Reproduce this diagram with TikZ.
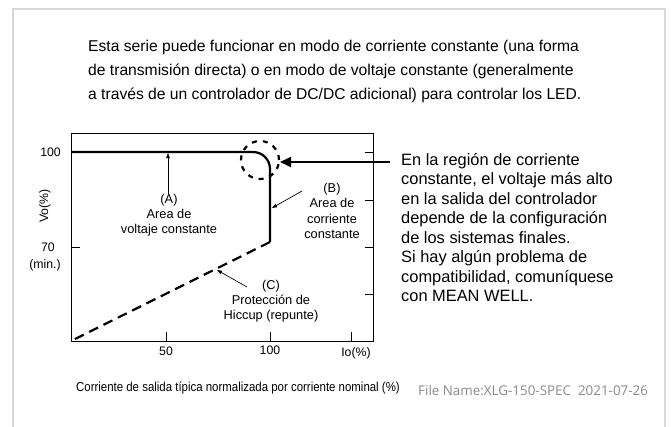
\documentclass[tikz,border=0pt]{standalone}
\usepackage{fontspec}
\setmainfont{Liberation Sans}
\newfontfamily\fnfont{Open Sans}
\usetikzlibrary{arrows.meta}
\definecolor{framegray}{HTML}{D8D8D8}
\definecolor{fngray}{HTML}{8A8A8A}
\begin{document}
\begin{tikzpicture}[x=1pt,y=-1pt,
  intro/.style={inner sep=0pt, align=left, font=\fontsize{15.65}{24}\selectfont},
  note/.style={inner sep=0pt, align=left, font=\fontsize{16.4}{19.5}\selectfont},
  lbl/.style={inner sep=0pt, align=center, font=\fontsize{12.8}{15.2}\selectfont},
  axlbl/.style={inner sep=0pt, align=center, font=\fontsize{12.3}{16}\selectfont},
  thinarrow/.style={line width=0.7pt, -{Triangle[length=5pt,width=3.5pt]}},
  bigarrow/.style={line width=1.8pt, -{Triangle[length=11pt,width=10pt]}},
  curve/.style={line width=2.2pt},
  tickmark/.style={line width=1pt},
]
\useasboundingbox (0,0) rectangle (672,426);
\fill[white] (0,0) rectangle (672,426);
\begin{scope}
\clip (0,0) rectangle (672,426);
\draw[framegray, line width=2.5pt] (13,440) -- (13,9) -- (665,9) -- (665,440);
\end{scope}

% intro text
\node[intro, anchor=west] (introtext) at (88,71) {Esta serie puede funcionar en modo de corriente constante (una forma\\de transmisión directa) o en modo de voltaje constante (generalmente\\a través de un controlador de DC/DC adicional) para controlar los LED.};

% plot box
\node[draw, line width=1pt, minimum width=302pt, minimum height=208pt, inner sep=0pt, anchor=north west] (plot) at (71,133) {};
\coordinate (o) at (71,341);
\coordinate (v100) at (71,152);
\coordinate (corner) at (270,152);
\coordinate (knee) at (270,242);

% ticks
\draw[tickmark] (71,247) -- (80,247);
\draw[tickmark] (373,152) -- (365,152);
\draw[tickmark] (373,200) -- (365,200);
\draw[tickmark] (373,247) -- (365,247);
\draw[tickmark] (373,294) -- (365,294);
\draw[tickmark] (166,341) -- (166,332);
\draw[tickmark] (270,341) -- (270,332);
\draw[tickmark] (351,341) -- (351,332);

% curves
\draw[curve, rounded corners=17pt] (v100) -- (corner) -- (knee);
\draw[curve, dash pattern=on 10pt off 6pt] (knee) -- (o);
\node[circle, draw, line width=2.2pt, dash pattern=on 5pt off 6pt, minimum size=38pt, inner sep=0pt] (ring) at (260,160) {};

% big arrow
\coordinate (bigstart) at (390,162);
\coordinate (bigend) at (280,162);
\draw[bigarrow] (bigstart) -- (bigend);

% axis labels
\node[axlbl, anchor=east] (y100) at (61,152) {100};
\node[axlbl] (y70) at (48,247) {70};
\node[axlbl] (ymin) at (45,265) {(min.)};
\node[axlbl, rotate=90] (ylab) at (45,206) {Vo(\%)};
\node[axlbl] (x50) at (166,351) {50};
\node[axlbl] (x100) at (270,350) {100};
\node[axlbl] (xlab) at (356,353) {Io(\%)};

% area labels
\node[lbl] (lblA) at (169,215) {(A)\\Area de\\voltaje constante};
\coordinate (aStart) at (168,195);
\coordinate (aEnd) at (168,153);
\draw[thinarrow] (aStart) -- (aEnd);

\node[lbl] (lblB) at (332,211) {(B)\\Area de\\corriente\\constante};
\coordinate (bStart) at (302,191);
\coordinate (bEnd) at (272,208);
\draw[thinarrow] (bStart) -- (bEnd);

\node[lbl] (lblC) at (271,301) {(C)\\Protección de\\Hiccup (repunte)};
\coordinate (cStart) at (247,287);
\coordinate (cEnd) at (217,270);
\draw[thinarrow] (cStart) -- (cEnd);

% note text
\node[note, anchor=north west] (notetext) at (401,153) {En la región de corriente\\constante, el voltaje más alto\\en la salida del controlador\\depende de la configuración\\de los sistemas finales.\\Si hay algún problema de\\compatibilidad, comuníquese\\con MEAN WELL.};

% caption
\node[inner sep=0pt] (caption) at (238,388) {\scalebox{0.88}[1]{\fontsize{13}{15}\selectfont Corriente de salida típica normalizada por corriente nominal (\%)}};
\node[inner sep=0pt, anchor=west, text=fngray] (filename) at (418,390) {\fnfont\fontsize{13.4}{15}\selectfont File Name:XLG-150-SPEC\ \ 2021-07-26};
\end{tikzpicture}
\end{document}
